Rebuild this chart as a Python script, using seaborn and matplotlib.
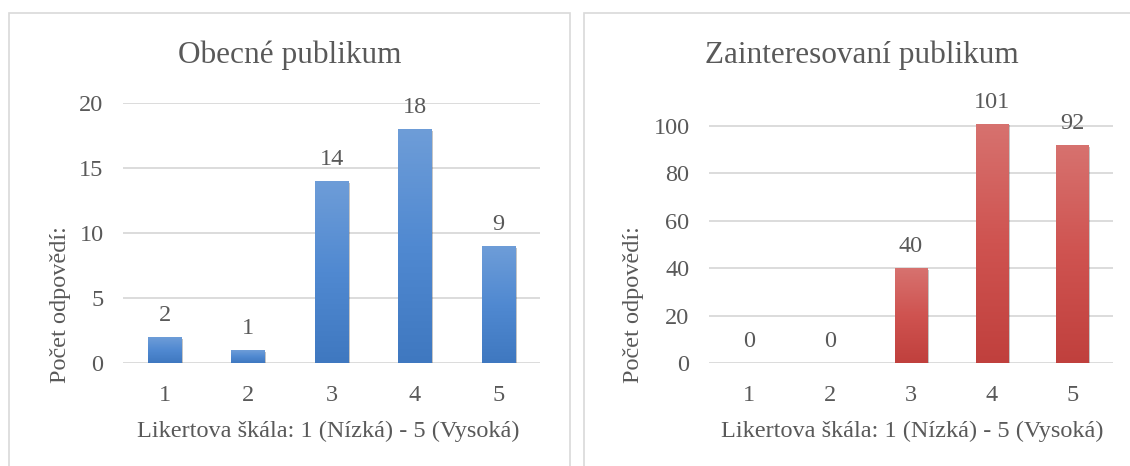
import numpy as np
import matplotlib
matplotlib.use("Agg")
import matplotlib.pyplot as plt
import matplotlib.patheffects as pe
from matplotlib.colors import LinearSegmentedColormap
from matplotlib.patches import Rectangle
import seaborn as sns

# Survey answers on a 1-5 Likert scale
categories = ["1", "2", "3", "4", "5"]
general_counts = [2, 1, 14, 18, 9]
interested_counts = [0, 0, 40, 101, 92]

titles = ["Obecné publikum", "Zainteresovaní publikum"]
x_label = "Likertova škála: 1 (Nízká) - 5 (Vysoká)"
y_label = "Počet odpovědí:"
general_ticks = [0, 5, 10, 15, 20]
interested_ticks = [0, 20, 40, 60, 80, 100]

sns.set_theme(style="white")
plt.rcParams["font.family"] = ["Liberation Serif", "DejaVu Serif"]

TEXT = "#595959"
GRID = "#D9D9D9"
W, H = 1130, 466

fig = plt.figure(figsize=(W / 100, H / 100), dpi=100)
fig.patch.set_facecolor("white")

# chart frames
for x0, x1 in [(9, 570), (584, 1140)]:
    fig.add_artist(Rectangle((x0 / W, -0.05), (x1 - x0) / W, 1.05 - 13 / H,
                             transform=fig.transFigure, fill=False,
                             edgecolor=GRID, linewidth=1.2, zorder=0))

blue = LinearSegmentedColormap.from_list("b", ["#3F78C0", "#5089D1", "#6E9DD8"])
red = LinearSegmentedColormap.from_list("r", ["#C0403D", "#CF5350", "#D7726F"])


def panel(rect, values, ticks, ylim, title, title_x, cmap, base, ylab_xy, xlab_xy):
    ax = fig.add_axes(rect)
    sns.barplot(x=categories, y=values, ax=ax, color=base, width=0.4,
                saturation=1, edgecolor="none")
    ax.set_xlim(-0.5, 4.5)
    ax.set_ylim(*ylim)
    ax.set_yticks(ticks)
    ax.set_axisbelow(True)
    ax.yaxis.grid(True, color=GRID, linewidth=1.3)
    ax.xaxis.grid(False)
    for s in ax.spines.values():
        s.set_visible(False)
    ax.tick_params(axis="both", length=0, labelsize=17.5, labelcolor=TEXT)
    ax.tick_params(axis="y", pad=14)
    ax.tick_params(axis="x", pad=16)

    grad = np.linspace(0, 1, 256).reshape(-1, 1)
    for p in ax.patches:
        h = p.get_height()
        p.set_path_effects([pe.SimplePatchShadow(offset=(1.2, -1.2), shadow_rgbFace="k", alpha=0.25),
                            pe.Normal()])
        if h <= 0:
            continue
        x = p.get_x()
        w = p.get_width()
        im = ax.imshow(grad, cmap=cmap, origin="lower", aspect="auto",
                       extent=(x, x + w, 0, h), zorder=p.get_zorder() + 0.1)
        im.set_clip_path(p)
    ax.set_xlim(-0.5, 4.5)
    ax.set_ylim(*ylim)

    for cont in ax.containers:
        ax.bar_label(cont, labels=[str(v) for v in values], padding=8,
                     fontsize=17.5, color=TEXT)

    ax.set_ylabel(y_label, fontsize=17.5, color=TEXT)
    ax.yaxis.label.set_va("center")
    ax.yaxis.set_label_coords(*ylab_xy)
    ax.set_xlabel(x_label, fontsize=17.5, color=TEXT)
    ax.xaxis.label.set_va("center")
    ax.xaxis.set_label_coords(*xlab_xy)

    fig.text(title_x / W, 1 - 55 / H, title, ha="center", va="center",
             fontsize=22.5, color=TEXT)
    return ax


panel([123 / W, (H - 363) / H, 417 / W, 260 / H], general_counts,
      general_ticks, (0, 20), titles[0], 289.5, blue, "#5089D1",
      (-0.151, 0.223), (0.4916, -0.2615))
panel([709 / W, (H - 363) / H, 404 / W, 241.7 / H], interested_counts,
      interested_ticks, (0, 102), titles[1], 862, red, "#CF5350",
      (-0.188, 0.24), (0.502, -0.281))

fig.savefig("out.png", dpi=100, facecolor="white")
